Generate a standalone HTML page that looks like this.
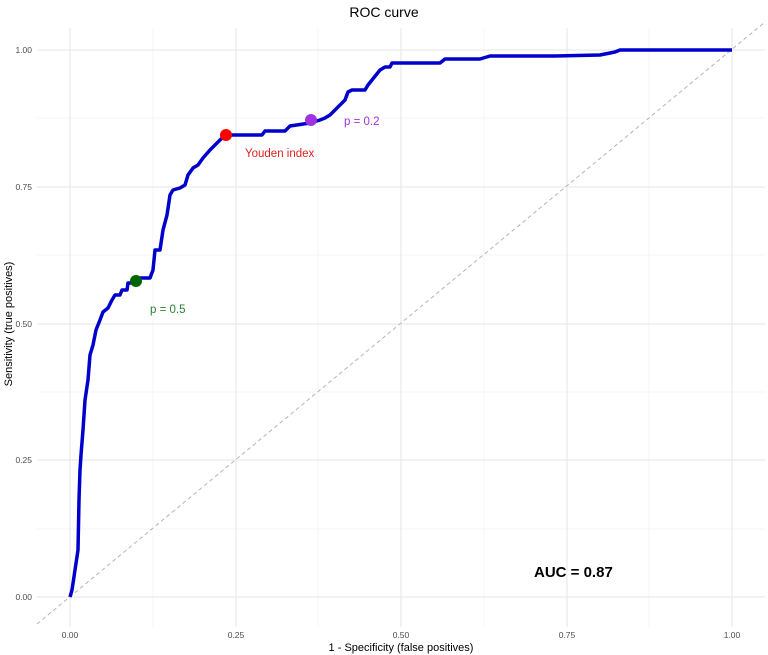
<!DOCTYPE html>
<html><head><style>body{margin:0;background:#fff}svg{display:block;font-family:"Liberation Sans",sans-serif}</style></head>
<body>
<svg width="768" height="655" viewBox="0 0 768 655">
<rect width="768" height="655" fill="#fff"/>
<g stroke="#f2f2f2" stroke-width="0.7">
<line x1="153" y1="28" x2="153" y2="627"/><line x1="318" y1="28" x2="318" y2="627"/><line x1="484" y1="28" x2="484" y2="627"/><line x1="649" y1="28" x2="649" y2="627"/>
<line x1="37" y1="118" x2="765" y2="118"/><line x1="37" y1="255" x2="765" y2="255"/><line x1="37" y1="392" x2="765" y2="392"/><line x1="37" y1="529" x2="765" y2="529"/>
</g>
<g stroke="#e6e6e6" stroke-width="1">
<line x1="70" y1="28" x2="70" y2="627"/><line x1="236" y1="28" x2="236" y2="627"/><line x1="401" y1="28" x2="401" y2="627"/><line x1="567" y1="28" x2="567" y2="627"/><line x1="732" y1="28" x2="732" y2="627"/>
<line x1="37" y1="50" x2="765" y2="50"/><line x1="37" y1="187" x2="765" y2="187"/><line x1="37" y1="324" x2="765" y2="324"/><line x1="37" y1="460" x2="765" y2="460"/><line x1="37" y1="597" x2="765" y2="597"/>
</g>
<line x1="37" y1="624" x2="765" y2="22" stroke="#b5b5b5" stroke-width="1" stroke-dasharray="4,3"/>
<polyline fill="none" stroke="#0000cc" stroke-width="3.5" stroke-linejoin="round" points="70,597 72,590 75,570 78,550 79,500 80,470 81,455 83,430 85,400 88,380 90,355 93,345 96,330 100,320 103,312 108,308 112,300 115,295 120,295 122,290 127,290 128,283 132,283 134,278 150,278 153,270 155,250 160,250 163,230 167,215 170,195 173,190 180,188 185,185 188,175 193,168 198,165 203,158 210,150 215,145 220,140 225,135 262,135 265,131 285,131 290,126 310,123 320,120 325,118 330,115 335,110 340,105 345,100 348,92 352,90 365,90 368,85 372,80 376,75 380,70 385,67 390,67 392,63 440,63 445,59 480,59 490,56 555,56 600,55 615,52 620,50 732,50"/>
<circle cx="136" cy="281" r="6" fill="#006400"/>
<circle cx="226" cy="135" r="6" fill="#ff0000"/>
<circle cx="311" cy="120" r="6" fill="#a033e0"/>
<g font-size="11.5">
<text x="150" y="313" fill="#2e7d32">p = 0.5</text>
<text x="245" y="157" fill="#e02020">Youden index</text>
<text x="344" y="125" fill="#a033e0">p = 0.2</text>
</g>
<text x="534" y="577" font-size="15" font-weight="bold" fill="#000">AUC = 0.87</text>
<text x="384" y="17" font-size="14" text-anchor="middle" fill="#000">ROC curve</text>
<g font-size="8.5" fill="#4d4d4d" text-anchor="end">
<text x="32" y="53">1.00</text><text x="32" y="190">0.75</text><text x="32" y="327">0.50</text><text x="32" y="463">0.25</text><text x="32" y="600">0.00</text>
</g>
<g font-size="8.5" fill="#4d4d4d" text-anchor="middle">
<text x="70" y="638">0.00</text><text x="236" y="638">0.25</text><text x="401" y="638">0.50</text><text x="567" y="638">0.75</text><text x="732" y="638">1.00</text>
</g>
<text x="401" y="651" font-size="11" text-anchor="middle" fill="#000">1 - Specificity (false positives)</text>
<text transform="translate(12,324) rotate(-90)" font-size="11" text-anchor="middle" fill="#000">Sensitivity (true positives)</text>
</svg>
</body></html>
